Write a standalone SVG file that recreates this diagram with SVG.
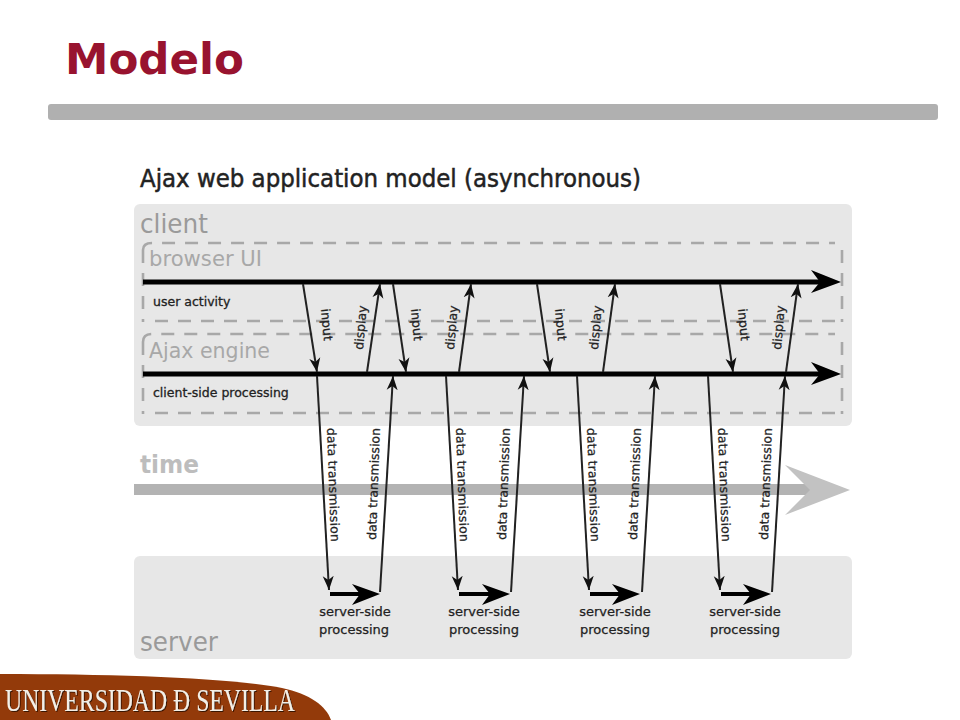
<svg xmlns="http://www.w3.org/2000/svg" width="960" height="720" viewBox="0 0 960 720">
<style>
text{font-family:"DejaVu Sans","Liberation Sans",sans-serif}
.panel{fill:#e7e7e7}
.dash{fill:none;stroke:#a8a8a8;stroke-width:2.6;stroke-dasharray:13 10}
.big{font-size:27px;fill:#9a9a9a}
.mid{font-size:22px;fill:#a8a8a8}
.small{font-size:12.5px;fill:#222;stroke:#222;stroke-width:.3}
.vert{font-size:12.5px;fill:#222;stroke:#222;stroke-width:.25}
.proc{font-size:13px;fill:#222;stroke:#222;stroke-width:.25;text-anchor:middle}
.thick{stroke:#000;stroke-width:5;fill:none}
.thin{stroke:#222;stroke-width:2;fill:none;marker-end:url(#head)}
.srv{stroke:#000;stroke-width:4;fill:none}
</style>
<defs>
<marker id="head" markerUnits="userSpaceOnUse" markerWidth="16" markerHeight="12" refX="14" refY="5.5" orient="auto" viewBox="0 0 16 11"><path d="M14 5.5L0 0L4 5.5L0 11Z" fill="#111"/></marker>
<filter id="shadow" x="-5%" y="-20%" width="110%" height="140%"><feDropShadow dx="1" dy="1" stdDeviation="0.4" flood-color="#3a1503"/></filter>
</defs>
<rect width="960" height="720" fill="#fff"/>
<g id="title"><text x="65" y="74" font-size="42" font-weight="700" fill="#98132f" textLength="179" lengthAdjust="spacingAndGlyphs">Modelo</text></g>
<rect id="title-rule" x="48" y="104" width="890" height="16" rx="3" fill="#b0b0b0"/>
<text id="heading" x="140" y="187" font-size="24" fill="#222" stroke="#222" stroke-width=".5" textLength="501" lengthAdjust="spacingAndGlyphs">Ajax web application model (asynchronous)</text>

<g id="client">
<rect class="panel" x="134" y="204" width="718" height="222" rx="6"/>
<text class="big" x="140" y="233" textLength="68" lengthAdjust="spacingAndGlyphs">client</text>
</g>
<g id="browser-ui">
<path class="dash" d="M143 250Q143 243 152 243H835"/>
<path class="dash" d="M842 250V322M143 250V322"/>
<path class="dash" d="M155 321H838"/>
<text class="mid" x="149" y="266" textLength="113" lengthAdjust="spacingAndGlyphs">browser UI</text>
<text class="small" x="153" y="306">user activity</text>
</g>
<g id="ajax-engine">
<path class="dash" d="M143 342Q143 334 152 334H835"/>
<path class="dash" d="M842 342V414M143 342V414"/>
<path class="dash" d="M155 413H838"/>
<text class="mid" x="149" y="358" textLength="121" lengthAdjust="spacingAndGlyphs">Ajax engine</text>
<text class="small" x="153" y="397">client-side processing</text>
</g>
<g id="time">
<text x="140" y="473" font-size="24" font-weight="700" fill="#bdbdbd" textLength="59" lengthAdjust="spacingAndGlyphs">time</text>
<rect x="134" y="484" width="680" height="11" fill="#b3b3b3"/>
<path d="M850 490L785 465L810 490L785 515Z" fill="#c2c2c2"/>
</g>
<g id="server">
<rect class="panel" x="134" y="556" width="718" height="103" rx="6"/>
<text class="big" x="140" y="651" textLength="78" lengthAdjust="spacingAndGlyphs">server</text>
</g>

<g id="connectors">
<path class="thick" d="M143 282H825"/>
<path d="M841 282L811 270L820 282L811 293Z" fill="#000"/>
<path class="thick" d="M143 374H825"/>
<path d="M841 374L811 362L820 374L811 385Z" fill="#000"/>
<path class="thin" d="M303 284L317 372"/><path class="thin" d="M367 372L380 284"/>
<path class="thin" d="M393 284L406 372"/><path class="thin" d="M459 372L471 284"/>
<path class="thin" d="M537 284L550 372"/><path class="thin" d="M603 372L615 284"/>
<path class="thin" d="M720 284L733 372"/><path class="thin" d="M786 372L798 284"/>
<path class="thin" d="M317 376L329 590"/><path class="thin" d="M380 592L393 376"/>
<path class="thin" d="M446 376L458 590"/><path class="thin" d="M511 592L524 376"/>
<path class="thin" d="M577 376L589 590"/><path class="thin" d="M642 592L655 376"/>
<path class="thin" d="M708 376L720 590"/><path class="thin" d="M772 592L785 376"/>
<path class="srv" d="M330 594H368"/><path d="M380 594L352 584L360 594L352 605Z" fill="#000"/>
<path class="srv" d="M459 594H498"/><path d="M510 594L482 584L490 594L482 605Z" fill="#000"/>
<path class="srv" d="M590 594H628"/><path d="M640 594L612 584L620 594L612 605Z" fill="#000"/>
<path class="srv" d="M721 594H759"/><path d="M771 594L743 584L751 594L743 605Z" fill="#000"/>
</g>

<g id="labels">
<text class="vert" transform="translate(321 309) rotate(85)">input</text>
<text class="vert" transform="translate(351 349) rotate(-85) translate(0 12)">display</text>
<text class="vert" transform="translate(411 309) rotate(85)">input</text>
<text class="vert" transform="translate(442 349) rotate(-85) translate(0 12)">display</text>
<text class="vert" transform="translate(555 309) rotate(85)">input</text>
<text class="vert" transform="translate(586 349) rotate(-85) translate(0 12)">display</text>
<text class="vert" transform="translate(738 309) rotate(85)">input</text>
<text class="vert" transform="translate(769 349) rotate(-85) translate(0 12)">display</text>
<text class="vert" transform="translate(327 428) rotate(88)" textLength="114">data transmission</text>
<text class="vert" transform="translate(376 540) rotate(-88)" textLength="112">data transmission</text>
<text class="vert" transform="translate(456 428) rotate(88)" textLength="114">data transmission</text>
<text class="vert" transform="translate(506 540) rotate(-88)" textLength="112">data transmission</text>
<text class="vert" transform="translate(587 428) rotate(88)" textLength="114">data transmission</text>
<text class="vert" transform="translate(637 540) rotate(-88)" textLength="112">data transmission</text>
<text class="vert" transform="translate(718 428) rotate(88)" textLength="114">data transmission</text>
<text class="vert" transform="translate(768 540) rotate(-88)" textLength="112">data transmission</text>
<text class="proc" x="355" y="616">server-side</text><text class="proc" x="354" y="634">processing</text>
<text class="proc" x="484" y="616">server-side</text><text class="proc" x="484" y="634">processing</text>
<text class="proc" x="615" y="616">server-side</text><text class="proc" x="615" y="634">processing</text>
<text class="proc" x="745" y="616">server-side</text><text class="proc" x="745" y="634">processing</text>
</g>

<g id="footer">
<path d="M0 674C120 674 230 678 282 688C310 694 326 706 331 720H0Z" fill="#933a0a"/>
<text x="5" y="711" font-size="31" fill="#f4efe6" filter="url(#shadow)" textLength="290" lengthAdjust="spacingAndGlyphs" style="font-family:'Liberation Serif',serif">UNIVERSIDAD Đ SEVILLA</text>
</g>
</svg>
